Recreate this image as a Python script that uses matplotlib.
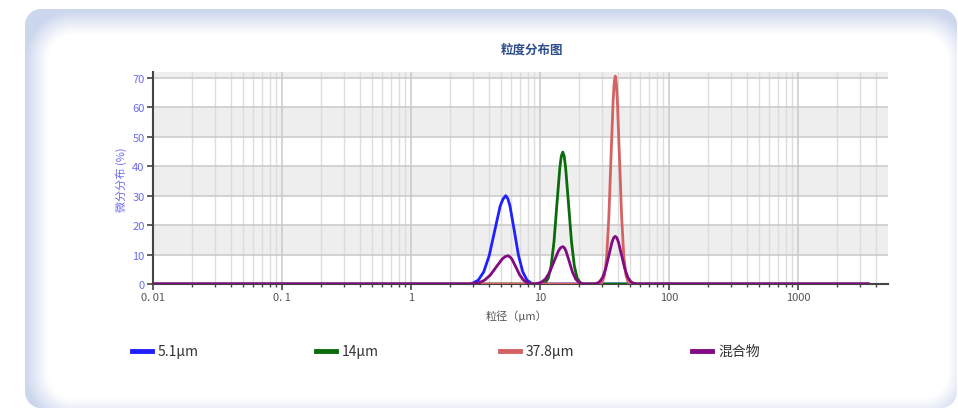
import numpy as np
import matplotlib
matplotlib.use("Agg")
import matplotlib.pyplot as plt
from matplotlib.lines import Line2D
from matplotlib.ticker import FixedLocator, LogLocator, NullFormatter

plt.rcParams['font.family'] = ['Noto Sans CJK SC', 'DejaVu Sans']

# ---------------- data ----------------
title = "粒度分布图"
x_label = "粒径（μm）"
y_label = "微分分布 (%)"
series_names = ["5.1μm", "14μm", "37.8μm", "混合物"]

x_51 = [0.01, 2.85, 3.01, 3.32, 3.66, 4.04, 4.46, 4.91, 5.16, 5.42, 5.63, 5.85, 6.31, 6.81, 7.35, 7.93, 8.55, 8.95, 3500]
y_51 = [0, 0, 0.3, 1.3, 4.1, 9.7, 18.2, 26.5, 28.8, 30.0, 29.0, 26.5, 18.2, 9.7, 4.1, 1.3, 0.3, 0, 0]

x_14 = [0.01, 10.6, 10.99, 11.57, 12.19, 12.84, 13.52, 14.24, 14.62, 15.0, 15.39, 15.79, 16.63, 17.52, 18.45, 19.43, 20.46, 21.3, 3500]
y_14 = [0, 0, 0.5, 1.9, 6.1, 14.5, 27.2, 39.5, 43.4, 44.8, 43.4, 39.5, 27.2, 14.5, 6.1, 1.9, 0.5, 0, 0]

x_378 = [0.01, 29.6, 30.48, 31.66, 32.89, 34.17, 35.48, 36.86, 37.57, 38.28, 39.02, 39.76, 41.30, 42.90, 44.57, 46.29, 48.08, 49.6, 3500]
y_378 = [0, 0, 0.8, 3.1, 9.6, 22.9, 42.8, 62.3, 68.4, 70.6, 68.4, 62.3, 42.8, 22.9, 9.6, 3.1, 0.8, 0, 0]

x_mix = [0.01, 2.85,
         3.01, 3.35, 3.72, 4.13, 4.58, 5.09, 5.37, 5.65, 5.85, 6.05, 6.49, 6.95, 7.45, 7.98, 8.55,
         8.95, 9.1,
         9.44, 10.20, 11.02, 11.90, 12.85, 13.88, 14.43, 15.0, 15.44, 15.89, 16.83, 17.82, 18.88, 20.0, 21.18,
         22.0, 26.5,
         27.29, 28.88, 30.55, 32.33, 34.20, 36.18, 37.22, 38.28, 39.38, 40.51, 42.85, 45.35, 47.97, 50.76, 53.70,
         56.0, 3500]
y_mix = [0, 0,
         0.1, 0.4, 1.3, 3.1, 5.8, 8.5, 9.3, 9.6, 9.2, 8.5, 5.8, 3.1, 1.3, 0.4, 0.1,
         0, 0,
         0.14, 0.56, 1.7, 4.1, 7.7, 11.2, 12.3, 12.7, 12.3, 11.2, 7.7, 4.1, 1.7, 0.56, 0.14,
         0, 0,
         0.18, 0.71, 2.2, 5.3, 9.8, 14.3, 15.7, 16.2, 15.7, 14.3, 9.8, 5.3, 2.2, 0.71, 0.18,
         0, 0]

x_ticks = [0.01, 0.1, 1, 10, 100, 1000]
x_ticklabels = ["0. 01", "0. 1", "1", "10", "100", "1000"]
y_ticks = [0, 10, 20, 30, 40, 50, 60, 70]

series_x = [x_51, x_14, x_378, x_mix]
series_y = [y_51, y_14, y_378, y_mix]
colors = ["#1f1fff", "#0b6a0b", "#d46262", "#820a82"]

# ---------------- figure ----------------
W, H = 958, 410
fig = plt.figure(figsize=(W / 100, H / 100), dpi=100, facecolor="white")

# decorative panel background (rounded card with soft blue edge)
yy, xx = np.mgrid[0:H, 0:W] + 0.5


def rr_sdf(x0, y0, x1, y1, r):
    cx, cy = (x0 + x1) / 2, (y0 + y1) / 2
    hx, hy = (x1 - x0) / 2, (y1 - y0) / 2
    qx = np.abs(xx - cx) - hx + r
    qy = np.abs(yy - cy) - hy + r
    return np.hypot(np.maximum(qx, 0), np.maximum(qy, 0)) + np.minimum(np.maximum(qx, qy), 0) - r


outer = rr_sdf(25, 10, 957, 409, 16)
inner = rr_sdf(49, 36, 947, 399, 24)
t = np.clip(inner / 24.0, 0, 1) ** 1.1
edge = np.array([0.80, 0.84, 0.93])
white = np.array([1.0, 1.0, 1.0])
img = white[None, None, :] + (edge - white)[None, None, :] * t[:, :, None]
a = np.clip(0.5 - outer, 0, 1)[:, :, None]
img = white[None, None, :] * (1 - a) + img * a
bg = fig.add_axes([0, 0, 1, 1], zorder=-10)
bg.imshow(img, extent=(0, W, H, 0), aspect="auto", interpolation="bilinear")
bg.set_xlim(0, W)
bg.set_ylim(H, 0)
bg.axis("off")

# main axes
left, right, top, bottom = 153, 888, 73, 285
ax = fig.add_axes([left / W, 1 - bottom / H, (right - left) / W, (bottom - top) / H])
ax.set_facecolor("white")
ax.set_xscale("log")
ax.set_xlim(0.01, 4980)
ax.set_ylim(0, 72)

# alternating bands
for lo in [10, 30, 50, 70]:
    ax.axhspan(lo, lo + 10, color="#eeeeee", zorder=0, lw=0)

ax.xaxis.set_major_locator(FixedLocator(x_ticks))
ax.set_xticklabels(x_ticklabels)
ax.xaxis.set_minor_locator(LogLocator(base=10, subs=np.arange(2, 10), numticks=20))
ax.xaxis.set_minor_formatter(NullFormatter())
ax.set_yticks(y_ticks)

ax.grid(True, which="major", axis="both", color="#c9c9c9", lw=1.1, zorder=1)
ax.grid(True, which="minor", axis="x", color="#dddddd", lw=1.0, zorder=1)
ax.set_axisbelow(True)

for xs, ys, c in zip(series_x, series_y, colors):
    ax.plot(xs, ys, color=c, lw=2.0, zorder=3, solid_joinstyle="round")

for s in ["top", "right"]:
    ax.spines[s].set_visible(False)
ax.spines["left"].set_color("#444444")
ax.spines["left"].set_linewidth(1.5)
ax.spines["bottom"].set_color("#444444")
ax.spines["bottom"].set_linewidth(1.5)

ax.tick_params(axis="y", which="major", direction="out", length=4, width=1.2,
               color="#444444", labelcolor="#6b6bf0", labelsize=8, pad=2)
ax.tick_params(axis="x", which="major", direction="out", length=4, width=1.2,
               color="#444444", labelcolor="#555555", labelsize=8, pad=2)
ax.tick_params(axis="x", which="minor", direction="out", length=2, width=1.0, color="#444444")

fig.text(532 / W, 1 - 50 / H, title, ha="center", va="center", fontsize=9,
         fontweight="bold", color="#2d4d8c")
fig.text(121 / W, 1 - 180 / H, y_label, ha="center", va="center", rotation=90,
         fontsize=8, color="#6b6bf0")
fig.text(516 / W, 1 - 316 / H, x_label, ha="center", va="center", fontsize=8, color="#555555")

# legend (manual layout)
leg_x = [132, 316, 500, 692]
leg_y = 352
for lx, name, c in zip(leg_x, series_names, colors):
    fig.add_artist(Line2D([lx / W, (lx + 20) / W], [1 - leg_y / H, 1 - leg_y / H],
                          color=c, lw=3.5, transform=fig.transFigure))
    fig.text((lx + 26) / W, 1 - leg_y / H, name, ha="left", va="center",
             fontsize=10, color="#333333")

fig.savefig("out.png", dpi=100, facecolor="white")
